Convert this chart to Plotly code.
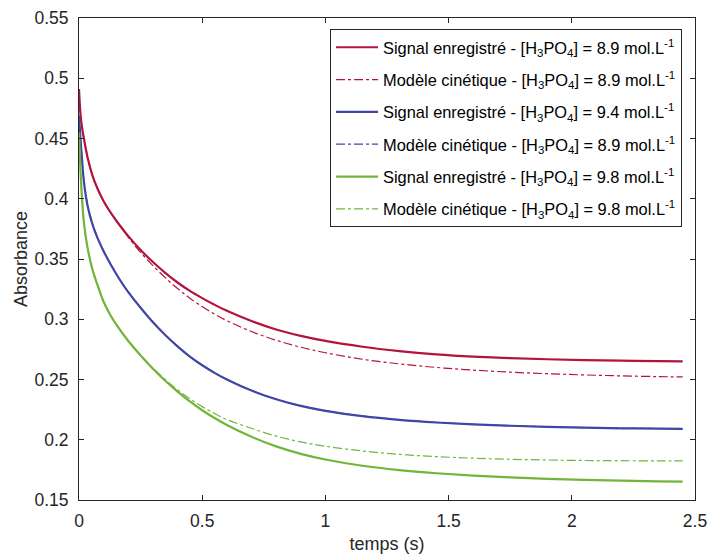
import plotly.graph_objects as go

# time (s)
temps = [0, 0.007, 0.014, 0.02, 0.035, 0.055, 0.075, 0.1, 0.13, 0.165, 0.2, 0.25, 0.3, 0.35,
         0.4, 0.45, 0.5, 0.55, 0.6, 0.7, 0.8, 0.9, 1.0, 1.15, 1.3, 1.45, 1.6, 1.75, 1.9,
         2.05, 2.2, 2.35, 2.45]

signal_89 = [0.491, 0.468, 0.457, 0.450, 0.434, 0.419, 0.4085, 0.398, 0.388, 0.378, 0.369, 0.3575,
             0.3475, 0.3385, 0.3305, 0.3235, 0.3175, 0.312, 0.307, 0.2985, 0.2915, 0.2862, 0.2820,
             0.2772, 0.2736, 0.2709, 0.2690, 0.2677, 0.2668, 0.2661, 0.2656, 0.2653, 0.2651]
modele_89 = [0.484, 0.468, 0.457, 0.450, 0.434, 0.419, 0.4085, 0.398, 0.388, 0.378, 0.368, 0.3555,
             0.3445, 0.3345, 0.3255, 0.3175, 0.3105, 0.3043, 0.2988, 0.2898, 0.2826, 0.2768, 0.2722,
             0.2668, 0.2630, 0.2600, 0.2578, 0.2561, 0.2548, 0.2538, 0.2530, 0.2524, 0.2521]

signal_94 = [0.469, 0.447, 0.428, 0.414, 0.394, 0.3785, 0.3675, 0.3565, 0.345, 0.333, 0.3225, 0.3095,
             0.2975, 0.287, 0.2775, 0.269, 0.2618, 0.2555, 0.2500, 0.2408, 0.2336, 0.2281, 0.2240,
             0.2196, 0.2165, 0.2143, 0.2127, 0.2116, 0.2107, 0.2100, 0.2095, 0.2092, 0.2090]
modele_94 = [0.463, 0.446, 0.428, 0.415, 0.395, 0.3790, 0.3675, 0.3562, 0.3448, 0.3330, 0.3226, 0.3096,
             0.2977, 0.2870, 0.2774, 0.2690, 0.2619, 0.2556, 0.2502, 0.2409, 0.2337, 0.2282, 0.2241,
             0.2197, 0.2166, 0.2144, 0.2128, 0.2117, 0.2108, 0.2101, 0.2096, 0.2093, 0.2091]

signal_98 = [0.455, 0.419, 0.395, 0.380, 0.359, 0.341, 0.3285, 0.3145, 0.3025, 0.2915, 0.2820, 0.2700,
             0.2590, 0.2490, 0.2400, 0.2318, 0.2245, 0.2180, 0.2123, 0.2025, 0.1945, 0.1883,
             0.1836, 0.1784, 0.1748, 0.1722, 0.1702, 0.1687, 0.1676, 0.1667, 0.1660, 0.1655, 0.1652]
modele_98 = [0.450, 0.419, 0.395, 0.380, 0.359, 0.341, 0.3285, 0.3145, 0.3025, 0.2915, 0.2820, 0.2702,
             0.2595, 0.2500, 0.2415, 0.2340, 0.2275, 0.2218, 0.2168, 0.2095, 0.2030, 0.1982,
             0.1946, 0.1907, 0.1879, 0.1860, 0.1847, 0.1838, 0.1832, 0.1828, 0.1826, 0.1825, 0.1825]

labels = [
    "Signal enregistré - [H<sub>3</sub>PO<sub>4</sub>] = 8.9 mol.L<sup>-1</sup>",
    "Modèle cinétique - [H<sub>3</sub>PO<sub>4</sub>] = 8.9 mol.L<sup>-1</sup>",
    "Signal enregistré - [H<sub>3</sub>PO<sub>4</sub>] = 9.4 mol.L<sup>-1</sup>",
    "Modèle cinétique - [H<sub>3</sub>PO<sub>4</sub>] = 8.9 mol.L<sup>-1</sup>",
    "Signal enregistré - [H<sub>3</sub>PO<sub>4</sub>] = 9.8 mol.L<sup>-1</sup>",
    "Modèle cinétique - [H<sub>3</sub>PO<sub>4</sub>] = 9.8 mol.L<sup>-1</sup>",
]

RED = "#B3143C"
BLUE = "#4046A6"
GREEN = "#72B53A"

series = [
    (signal_89, RED, "solid", 2.2),
    (modele_89, RED, "dashdot", 1.2),
    (signal_94, BLUE, "solid", 2.2),
    (modele_94, BLUE, "dashdot", 1.2),
    (signal_98, GREEN, "solid", 2.2),
    (modele_98, GREEN, "dashdot", 1.2),
]

FONT = "Liberation Sans, Arial"
fig = go.Figure()
for i, ((vals, col, dash, w), lab) in enumerate(zip(series, labels)):
    fig.add_trace(go.Scatter(
        x=temps, y=vals, mode="lines", name=lab, legendgroup=f"g{i}",
        line=dict(color=col, dash=dash, width=w, shape="spline", smoothing=1.0),
    ))

axis_common = dict(
    showline=True, linecolor="#262626", linewidth=1, mirror="allticks",
    ticks="inside", ticklen=5, tickcolor="#262626", showgrid=False, zeroline=False,
    automargin=False,
    tickfont=dict(family=FONT, size=17.5, color="#262626"),
)

fig.update_layout(
    width=709, height=554,
    margin=dict(l=79, r=14, t=18, b=54),
    paper_bgcolor="white", plot_bgcolor="white",
    xaxis=dict(range=[0, 2.5], dtick=0.5, tick0=0, ticklabelstandoff=5,
               title=dict(text="temps (s)", font=dict(family=FONT, size=18, color="#262626"), standoff=8),
               **axis_common),
    yaxis=dict(range=[0.15, 0.55], dtick=0.05, tick0=0.15, ticklabelstandoff=6,
               title=dict(text="Absorbance", font=dict(family=FONT, size=18, color="#262626"), standoff=2),
               **axis_common),
    legend=dict(x=0.4075, y=0.977, xanchor="left", yanchor="top",
                bordercolor="#262626", borderwidth=1, bgcolor="white",
                font=dict(family=FONT, size=16.4, color="#000000"),
                itemwidth=42, tracegroupgap=8),
    showlegend=True,
)

# remove the default page margin so the 709x554 figure fills the window exactly
fig.write_html(
    "out.html",
    config={"displayModeBar": False},
    post_script="document.body.style.margin='0';document.body.style.overflow='hidden';",
)
